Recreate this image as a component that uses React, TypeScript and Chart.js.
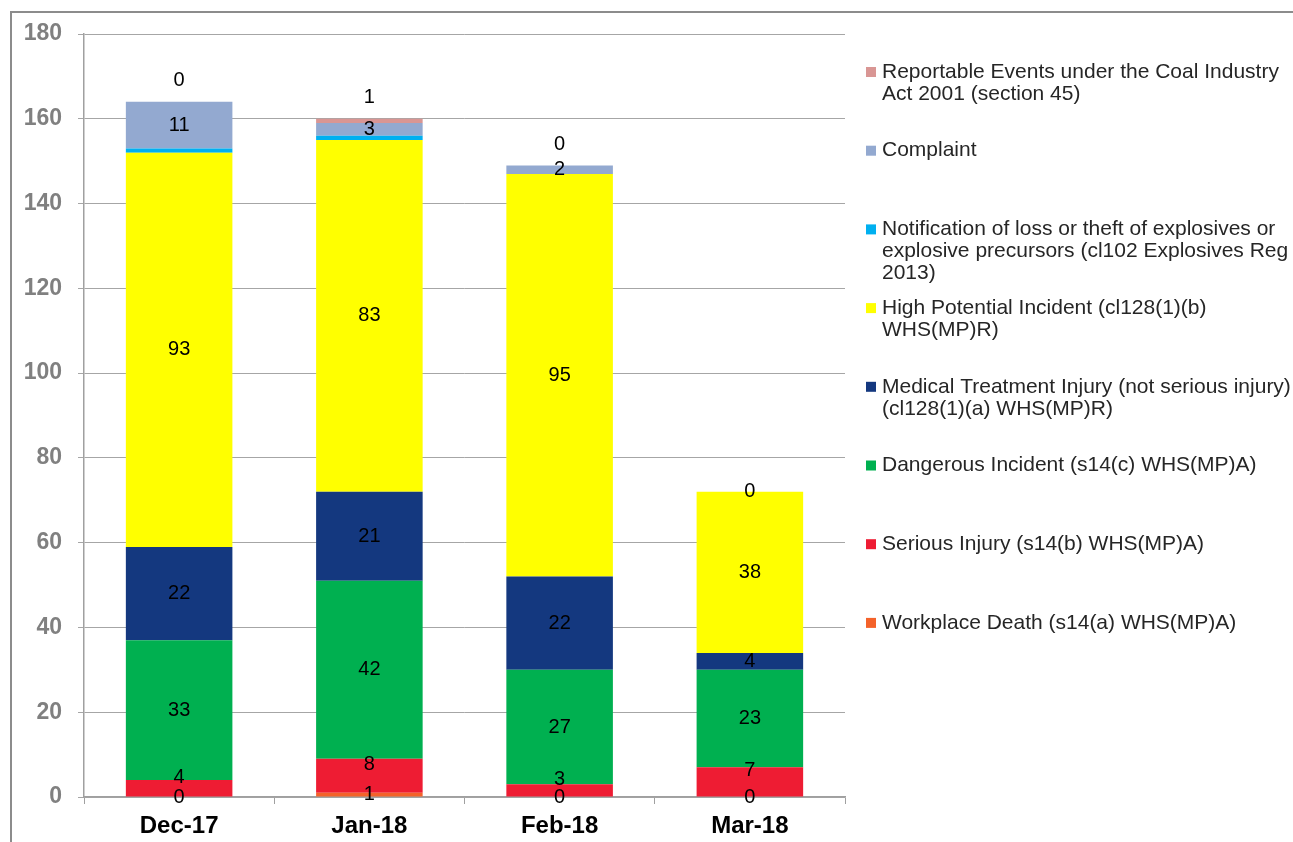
import { useEffect, useRef } from "react";
import { Chart, registerables } from "chart.js";

Chart.register(...registerables);

const categories = ["Dec-17", "Jan-18", "Feb-18", "Mar-18"];
const workplaceDeath = [0, 1, 0, 0];
const seriousInjury = [4, 8, 3, 7];
const dangerousIncident = [33, 42, 27, 23];
const medicalTreatment = [22, 21, 22, 4];
const highPotential = [93, 83, 95, 38];
const notification = [1, 1, 0, 0];
const complaint = [11, 3, 2, 0];
const reportable: (number | null)[] = [0, 1, 0, null];
const yTicks = [0, 20, 40, 60, 80, 100, 120, 140, 160, 180];

type Series = {
  lines: string[];
  color: string;
  data: (number | null)[];
  labelMode: "center" | "none" | "above";
  labelShift: number;
};

// bottom-to-top stacking order
const series: Series[] = [
  { lines: ["Workplace Death (s14(a) WHS(MP)A)"], color: "#f4622a", data: workplaceDeath, labelMode: "center", labelShift: 0 },
  { lines: ["Serious Injury (s14(b) WHS(MP)A)"], color: "#ee1c33", data: seriousInjury, labelMode: "center", labelShift: -11 },
  { lines: ["Dangerous Incident (s14(c) WHS(MP)A)"], color: "#00b050", data: dangerousIncident, labelMode: "center", labelShift: 0 },
  { lines: ["Medical Treatment Injury (not serious injury)", "(cl128(1)(a) WHS(MP)R)"], color: "#14387f", data: medicalTreatment, labelMode: "center", labelShift: 0 },
  { lines: ["High Potential Incident (cl128(1)(b)", "WHS(MP)R)"], color: "#ffff00", data: highPotential, labelMode: "center", labelShift: 0 },
  { lines: ["Notification of loss or theft of explosives or", "explosive precursors (cl102 Explosives Reg", "2013)"], color: "#00b0f0", data: notification, labelMode: "none", labelShift: 0 },
  { lines: ["Complaint"], color: "#93a9d0", data: complaint, labelMode: "center", labelShift: 0 },
  { lines: ["Reportable Events under the Coal Industry", "Act 2001 (section 45)"], color: "#d99694", data: reportable, labelMode: "above", labelShift: 0 },
];

const FONT = "'Liberation Sans', Arial, sans-serif";

const labelPlugin = {
  id: "valueLabels",
  afterDatasetsDraw(chart: any) {
    const ctx = chart.ctx;
    ctx.save();
    ctx.font = `20px ${FONT}`;
    ctx.fillStyle = "#000000";
    ctx.textAlign = "center";
    ctx.textBaseline = "middle";
    series.forEach((s, di) => {
      if (s.labelMode === "none") return;
      const meta = chart.getDatasetMeta(di);
      meta.data.forEach((bar: any, i: number) => {
        const v = s.data[i];
        if (v === null || v === undefined) return;
        const { x, y, base } = bar.getProps(["x", "y", "base"], true);
        const ly = s.labelMode === "above" ? y - 21 : (y + base) / 2 + s.labelShift;
        ctx.fillText(String(v), x, ly);
      });
    });
    ctx.restore();
  },
  afterDraw(chart: any) {
    const ctx = chart.ctx;
    ctx.save();
    // frame
    ctx.strokeStyle = "#8c8c8c";
    ctx.lineWidth = 2;
    ctx.strokeRect(11, 12, 1400, 900);
    // legend (top to bottom = reverse stacking order)
    ctx.font = `21px ${FONT}`;
    ctx.textAlign = "left";
    ctx.textBaseline = "middle";
    const items = [...series].reverse();
    items.forEach((s, k) => {
      const y0 = 72 + k * 78.7;
      ctx.fillStyle = s.color;
      ctx.fillRect(866, y0 - 5, 10, 10);
      ctx.fillStyle = "#262626";
      s.lines.forEach((ln, j) => {
        ctx.fillText(ln, 882, y0 + j * 22);
      });
    });
    ctx.restore();
  },
};

export default function App() {
  const ref = useRef<HTMLCanvasElement | null>(null);
  useEffect(() => {
    if (!ref.current) return;
    const chart = new Chart(ref.current, {
      type: "bar",
      data: {
        labels: categories,
        datasets: series.map((s) => ({
          label: s.lines.join(" "),
          data: s.data,
          backgroundColor: s.color,
          borderWidth: 0,
          barPercentage: 0.56,
          categoryPercentage: 1,
        })),
      },
      options: {
        responsive: false,
        animation: false,
        layout: { padding: { top: 34, right: 448, bottom: 0, left: 0 } },
        plugins: {
          legend: { display: false },
          tooltip: { enabled: false },
          title: { display: false },
        },
        scales: {
          x: {
            stacked: true,
            grid: {
              display: true,
              drawOnChartArea: false,
              drawTicks: true,
              tickLength: 7,
              color: "#a0a0a0",
              offset: true,
            },
            border: { display: true, color: "#a0a0a0", width: 1.5 },
            ticks: {
              color: "#000000",
              font: { family: FONT, size: 24, weight: "bold" },
              padding: 8,
            },
            afterFit(scale: any) {
              scale.height = 45;
            },
          },
          y: {
            stacked: true,
            min: 0,
            max: 180,
            afterBuildTicks(scale: any) {
              scale.ticks = yTicks.map((v) => ({ value: v }));
            },
            grid: {
              color: "#a6a6a6",
              lineWidth: 1,
              drawTicks: true,
              tickLength: 6,
            },
            border: { display: true, color: "#a0a0a0", width: 1.5 },
            ticks: {
              color: "#808080",
              font: { family: FONT, size: 23, weight: "bold" },
              padding: 16,
            },
            afterFit(scale: any) {
              scale.width = 84;
            },
          },
        },
      },
      plugins: [labelPlugin],
    });
    return () => chart.destroy();
  }, []);
  return (
    <div style={{ position: "absolute", left: 0, top: 0, width: 1293, height: 842, overflow: "hidden", background: "#fff" }}>
      <canvas ref={ref} width={1293} height={842} style={{ display: "block" }} />
    </div>
  );
}
